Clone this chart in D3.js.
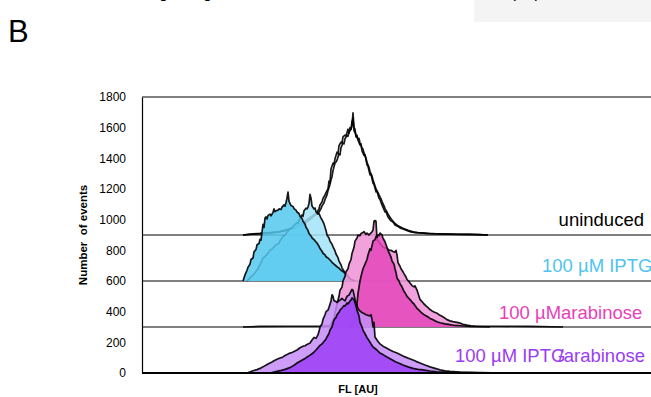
<!DOCTYPE html>
<html>
<head>
<meta charset="utf-8">
<script src="https://cdn.jsdelivr.net/npm/d3@7"></script>
<style>
  body { margin: 0; background: #fff; }
  svg { font-family: "Liberation Sans", Arial, sans-serif; }
</style>
</head>
<body>
<svg id="chart" width="651" height="397"></svg>
<script>
// histogram data: [FL channel, number of events above the track baseline]
var uninducedA = [[101,0],[108,6],[118,10],[128,16],[138,22],[148,40],[155,58],[161,80],[166,104],[170,122],[175,148],[177,170],[178,196],[180,215],[181,238],[183,262],[184,276],[186,300],[187,352],[188,340],[189,430],[191,468],[192,460],[193,497],[195,540],[196,530],[197,582],[199,606],[200,600],[201,640],[203,652],[204,646],[205,668],[206,690],[207,664],[208,700],[209,690],[210,712],[211,796],[212,700],[213,690],[214,640],[215,650],[216,618],[218,588],[219,594],[220,548],[222,520],[223,524],[225,458],[226,448],[228,392],[229,396],[231,338],[232,330],[234,282],[235,284],[237,240],[238,232],[240,196],[243,150],[244,152],[246,118],[249,92],[251,84],[253,66],[256,56],[258,46],[263,34],[268,22],[273,16],[278,14],[288,9],[298,7],[308,6],[318,4],[328,5],[338,3],[346,0]];
var uninducedB = [[101,0],[110,5],[120,9],[130,14],[140,24],[150,38],[157,56],[163,78],[168,100],[172,124],[177,150],[179,172],[180,190],[182,210],[183,232],[185,262],[186,290],[188,330],[189,360],[190,380],[191,420],[193,470],[194,476],[195,488],[197,530],[198,522],[199,570],[201,600],[202,594],[203,628],[205,650],[206,644],[207,672],[209,690],[210,740],[211,760],[212,680],[213,670],[214,650],[216,626],[217,630],[218,600],[220,566],[221,560],[222,534],[224,500],[225,474],[227,440],[228,414],[230,384],[231,360],[233,320],[234,300],[236,276],[237,262],[239,236],[240,218],[242,190],[243,172],[245,150],[246,136],[248,116],[249,106],[252,82],[254,70],[256,60],[261,44],[266,30],[271,20],[276,15],[285,10],[295,8],[305,6],[315,5],[325,4],[335,3],[346,0]];

var iptgA = [[101,0],[103,40],[105,70],[106,90],[108,110],[109,140],[111,150],[112,190],[114,205],[115,236],[117,244],[118,272],[119,266],[120,318],[121,370],[122,350],[123,410],[124,418],[125,405],[126,428],[128,436],[129,425],[131,448],[132,470],[133,452],[134,458],[136,462],[137,470],[139,466],[140,482],[142,496],[143,488],[144,512],[145,540],[146,580],[147,520],[148,506],[149,492],[151,486],[152,472],[154,462],[155,450],[157,440],[158,422],[160,408],[161,390],[163,372],[164,350],[166,330],[167,310],[169,294],[170,282],[172,270],[173,262],[175,248],[177,226],[178,212],[180,194],[181,181],[183,170],[184,158],[186,150],[188,137],[190,122],[192,110],[195,93],[197,84],[199,70],[201,62],[203,50],[206,32],[208,15],[213,0]];
var iptgB = [[105,0],[108,20],[112,45],[116,80],[119,120],[121,150],[123,160],[125,175],[128,200],[130,208],[132,222],[135,240],[137,246],[138,262],[141,290],[143,300],[145,318],[148,340],[150,346],[152,362],[155,380],[156,376],[158,410],[160,430],[161,422],[162,458],[164,475],[165,470],[166,482],[167,505],[168,565],[169,540],[170,490],[172,470],[173,476],[174,452],[176,436],[177,440],[179,410],[180,400],[182,372],[184,330],[185,300],[187,280],[188,260],[190,240],[191,224],[193,196],[194,176],[196,152],[197,130],[199,106],[200,86],[202,64],[203,48],[206,20],[210,0]];

var araA = [[208,0],[212,40],[213,90],[215,150],[216,220],[218,300],[219,330],[221,380],[223,410],[225,440],[226,470],[228,510],[229,500],[231,560],[233,570],[234,590],[235,584],[236,600],[237,596],[238,612],[240,600],[241,580],[243,556],[245,520],[246,500],[248,470],[249,456],[250,430],[252,410],[253,380],[254,356],[255,320],[257,300],[258,282],[260,262],[262,232],[263,224],[265,200],[267,186],[269,172],[270,162],[272,150],[273,140],[275,122],[277,110],[279,96],[281,86],[283,76],[286,66],[288,56],[290,50],[293,40],[295,34],[298,28],[303,20],[308,15],[313,10],[318,8],[328,4],[348,0]];
var araB = [[101,0],[118,4],[148,5],[178,6],[188,8],[192,60],[195,150],[197,200],[198,240],[200,260],[201,300],[203,330],[204,360],[206,380],[207,410],[209,440],[210,480],[212,520],[213,560],[215,580],[216,600],[218,596],[219,610],[221,616],[222,622],[224,604],[225,612],[227,600],[228,608],[230,620],[231,632],[232,690],[233,694],[234,690],[235,570],[237,556],[238,545],[240,530],[241,522],[243,516],[245,510],[247,502],[249,500],[251,492],[253,488],[254,500],[255,470],[256,420],[258,396],[259,380],[261,360],[262,348],[264,326],[265,310],[267,296],[268,287],[270,270],[272,262],[273,268],[275,241],[277,200],[278,180],[280,166],[282,150],[284,138],[286,126],[288,114],[290,105],[292,98],[295,90],[297,80],[300,70],[302,62],[305,48],[308,40],[311,35],[315,30],[318,25],[321,18],[325,12],[329,8],[333,6],[358,5],[388,4],[421,0]];

var bothA = [[128,0],[138,15],[143,24],[148,35],[152,50],[155,65],[159,80],[163,95],[167,112],[171,130],[174,150],[178,180],[180,190],[182,205],[184,222],[185,235],[187,258],[188,280],[190,300],[191,325],[192,345],[193,355],[194,362],[195,380],[197,396],[198,410],[200,424],[202,440],[203,436],[205,457],[206,450],[208,470],[209,476],[210,490],[211,484],[212,478],[213,460],[214,436],[215,411],[217,372],[218,330],[220,300],[221,280],[223,256],[225,230],[226,222],[228,200],[229,190],[231,170],[233,160],[235,150],[236,142],[238,130],[241,120],[245,104],[249,90],[253,75],[257,64],[261,52],[266,40],[271,30],[276,24],[281,20],[288,13],[295,8],[308,4],[348,0]];
var bothB = [[105,0],[111,15],[115,22],[118,30],[121,40],[123,48],[126,58],[128,65],[130,72],[132,80],[135,90],[138,98],[140,102],[141,105],[143,114],[145,120],[148,130],[150,134],[152,140],[155,150],[157,160],[158,165],[161,175],[163,178],[165,186],[168,195],[169,205],[170,215],[172,232],[174,226],[176,250],[177,270],[178,300],[180,320],[181,350],[183,380],[184,400],[186,410],[187,428],[189,470],[190,510],[191,500],[192,472],[194,466],[195,460],[197,470],[198,475],[200,486],[201,480],[203,470],[204,486],[205,500],[207,508],[208,520],[210,545],[211,540],[212,510],[213,480],[215,440],[216,420],[218,404],[220,395],[222,388],[224,380],[226,376],[228,372],[229,380],[230,350],[231,300],[232,330],[233,235],[235,215],[236,205],[238,190],[241,175],[244,165],[248,150],[251,140],[255,130],[259,118],[263,105],[267,95],[271,85],[274,76],[278,65],[283,52],[288,40],[293,30],[298,20],[303,14],[308,10],[318,6],[328,4],[361,0]];

var offsets = [900, 600, 300, 0];
var yTicks = [0, 200, 400, 600, 800, 1000, 1200, 1400, 1600, 1800];

var tracks = [
  { reps: [uninducedB, uninducedA], offset: offsets[0], colors: ["#ffffff", "#ffffff"] },
  { reps: [iptgB, iptgA], offset: offsets[1], colors: ["#a2e3f8", "#55c8ee"] },
  { reps: [araB, araA], offset: offsets[2], colors: ["#ef92d7", "#e446bb"] },
  { reps: [bothB, bothA], offset: offsets[3], colors: ["#c48cf7", "#9c3ef6"] }
];

var svg = d3.select("#chart");

var x = d3.scaleLinear().domain([0, 510]).range([142, 652]);
var y = d3.scaleLinear().domain([0, 1800]).range([373, 97]);

// panel letter and cut-off page bits
svg.append("rect").attr("x", 474).attr("y", 0).attr("width", 177).attr("height", 22).attr("fill", "#f4f4f4");
svg.append("text").attr("x", 8).attr("y", 42).attr("font-size", 31).text("B");
[[159, "g"], [203, "g"], [513, "p"], [534, "p"]].forEach(function(t) {
  svg.append("text").attr("x", t[0]).attr("y", -2).attr("font-size", 16).text(t[1]);
});

// track separators and frame
svg.append("line").attr("x1", 142).attr("x2", 651).attr("y1", y(1800)).attr("y2", y(1800)).attr("stroke", "#000");
offsets.slice(0, 3).forEach(function(o) {
  svg.append("line").attr("x1", 142).attr("x2", 651).attr("y1", y(o)).attr("y2", y(o)).attr("stroke", "#000");
});

var yAxis = svg.append("g")
  .attr("transform", "translate(142,0)")
  .call(d3.axisLeft(y).tickValues(yTicks).tickSize(0).tickPadding(16).tickFormat(d3.format("d")));
yAxis.select(".domain").attr("stroke", "#000").attr("stroke-width", 1.2);
yAxis.selectAll("text").attr("font-size", 12).attr("fill", "#000")
  .attr("font-family", "'Liberation Sans', Arial, sans-serif");

// histograms
tracks.forEach(function(t) {
  var area = d3.area()
    .x(function(d) { return x(d[0]); })
    .y0(y(t.offset))
    .y1(function(d) { return y(t.offset + d[1]); });
  var line = d3.line()
    .x(function(d) { return x(d[0]); })
    .y(function(d) { return y(t.offset + d[1]); });
  t.reps.forEach(function(r, i) {
    svg.append("path").datum(r)
      .attr("d", area)
      .attr("fill", t.colors[i])
      .attr("fill-opacity", t.offset == 900 ? 0 : 0.85);
    svg.append("path").datum(r)
      .attr("d", line)
      .attr("fill", "none")
      .attr("stroke", "#000")
      .attr("stroke-opacity", 0.9)
      .attr("stroke-width", 1.7)
      .attr("stroke-linejoin", "round");
  });
});

// bottom axis line
svg.append("line").attr("x1", 142).attr("x2", 651).attr("y1", y(0)).attr("y2", y(0))
  .attr("stroke", "#000").attr("stroke-width", 2.2);

// axis titles
svg.append("text")
  .attr("transform", "translate(87," + y(900) + ") rotate(-90)")
  .attr("text-anchor", "middle").attr("font-size", 11.5).attr("font-weight", "bold")
  .attr("xml:space", "preserve")
  .text("Number  of events");
svg.append("text")
  .attr("x", 358).attr("y", 393)
  .attr("text-anchor", "middle").attr("font-size", 11).attr("font-weight", "bold")
  .text("FL [AU]");

// track labels
var lab = svg.append("g").attr("font-size", 18.5);
lab.append("text").attr("x", 644).attr("y", 226).attr("text-anchor", "end").attr("fill", "#000").text("uninduced");
lab.append("text").attr("x", 542).attr("y", 272).attr("fill", "#50c4ef").text("100 µM IPTG");
var um = lab.append("text").attr("x", 499).attr("y", 319).attr("fill", "#e83fb7").text("100 µM");
lab.append("text").attr("x", 499 + um.node().getComputedTextLength()).attr("y", 319).attr("fill", "#e83fb7").text("arabinose");
lab.append("text").attr("x", 455).attr("y", 362).attr("fill", "#9b3cf5").text("100 µM IPTG");
lab.append("text").attr("x", 645).attr("y", 362).attr("text-anchor", "end").attr("fill", "#9b3cf5").text("/arabinose");
</script>
</body>
</html>
